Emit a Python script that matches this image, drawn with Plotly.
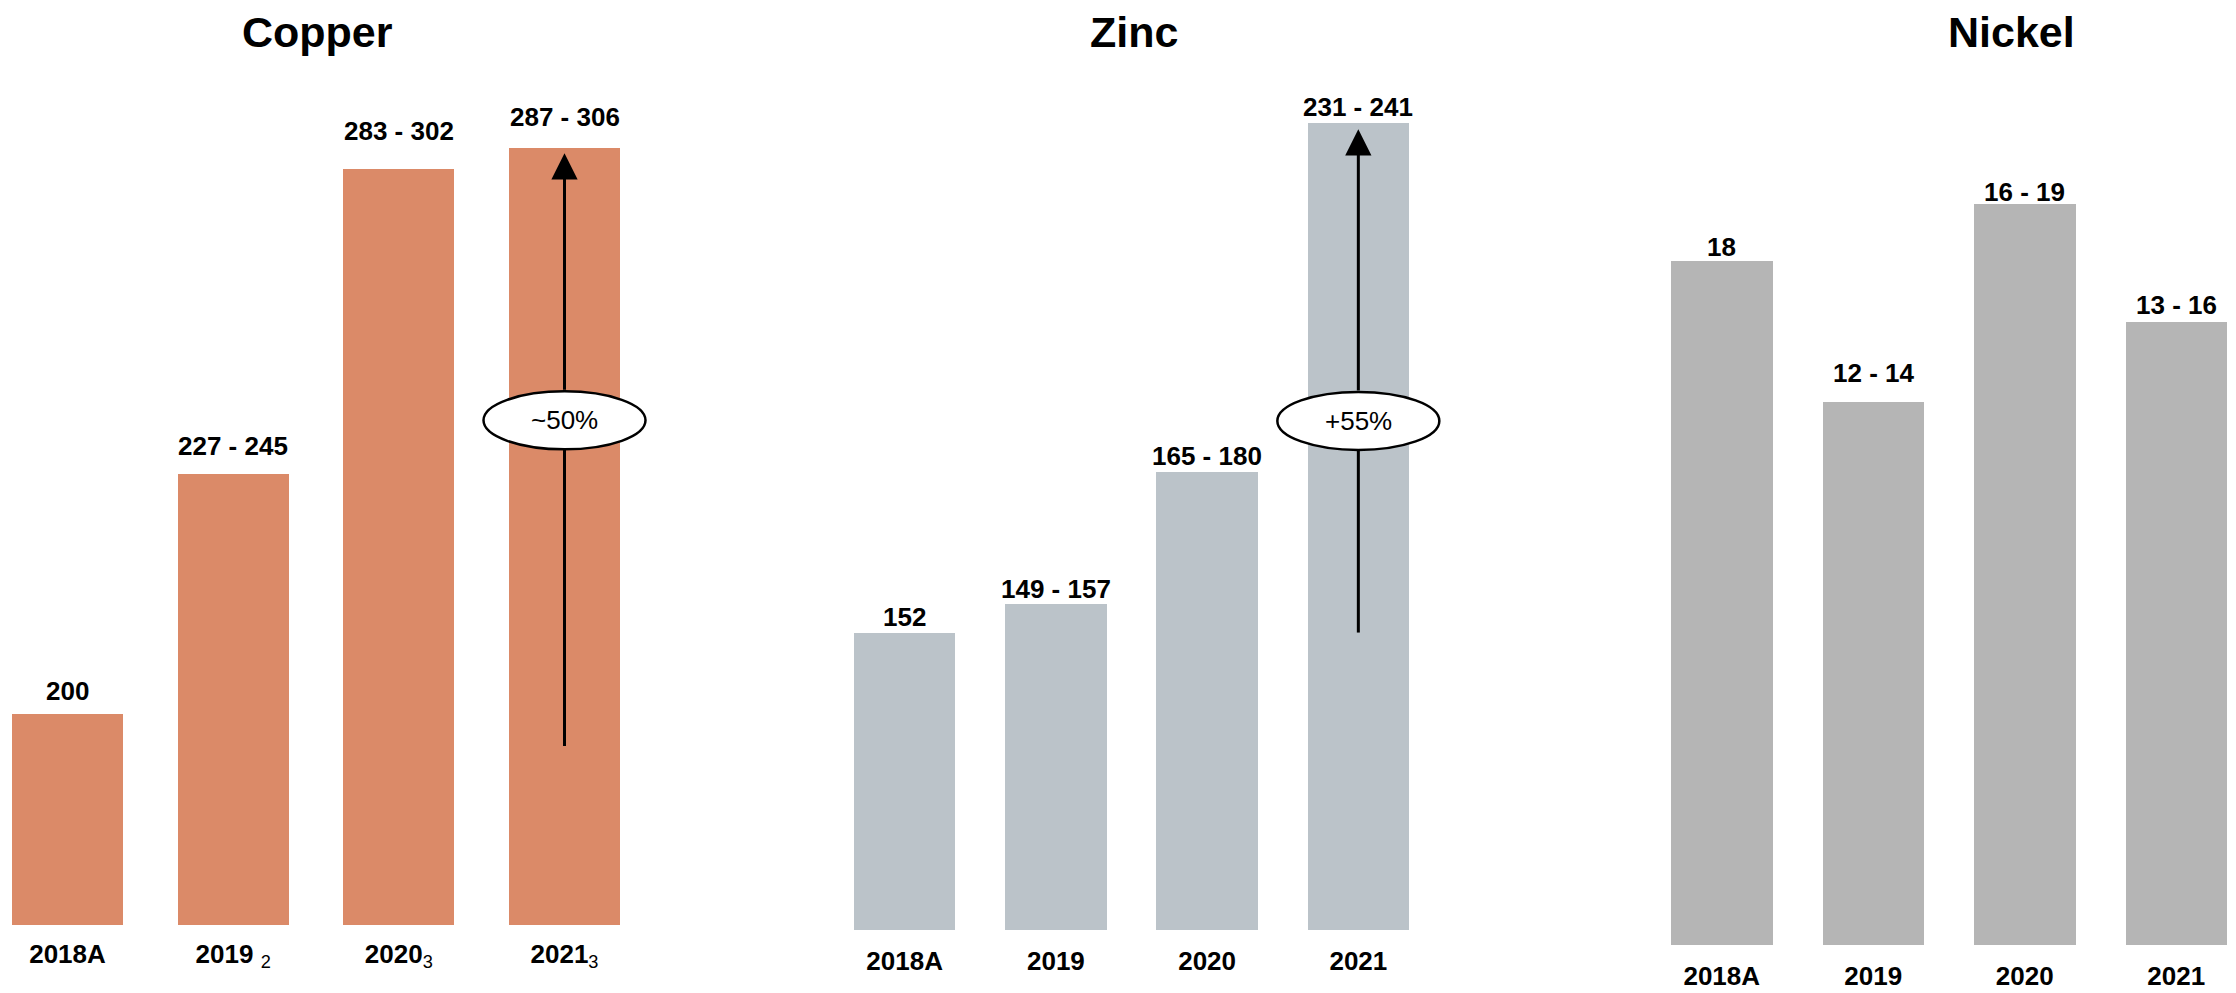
import plotly.graph_objects as go

# ---------------- data ----------------
years = ["2018A", "2019", "2020", "2021"]
copper_notes = ["", "2", "3", "3"]

copper_values = [200, 245, 302, 306]
copper_labels = ["200", "227 - 245", "283 - 302", "287 - 306"]

zinc_values = [152, 157, 180, 241]
zinc_labels = ["152", "149 - 157", "165 - 180", "231 - 241"]

nickel_values = [18, 14.3, 19.5, 16.4]
nickel_labels = ["18", "12 - 14", "16 - 19", "13 - 16"]

panel_titles = ["Copper", "Zinc", "Nickel"]

# growth arrows: (from, to, bubble position, text)
copper_growth = (194, 305, 255, "~50%")
zinc_growth = (152, 240, 189, "+55%")

# ---------------- style ----------------
PAGE_OFF = 8                      # default page margin of the html body
W, H = 2236 - PAGE_OFF, 993 - PAGE_OFF
FONT = "Liberation Sans, Arial, Helvetica, sans-serif"
colors = ["#DB8A68", "#BBC3C9", "#B5B5B5"]
label_shift = [[23, 28, 38, 31], [16, 15, 16, 16], [14, 29, 12, 17]]
# bar span (left edge of first bar, right edge of last bar) and extra room right
xdom_px = [(12, 620, 90), (854, 1409, 60), (1671, 2227, 0)]
base_px = [925, 930, 945]
top_px = 100
px_per_unit_y = [5.34, 5.72, 38.0]
y_start = [160.5, 100, 0]
title_pos_px = [(317, 32), (1134, 32), (2011, 32)]
tick_standoff = [11, 13, 13]

values_all = [copper_values, zinc_values, nickel_values]
labels_all = [copper_labels, zinc_labels, nickel_labels]


def px_x(p):
    return (p - PAGE_OFF) / W


def px_y(p):
    return (H - (p - PAGE_OFF)) / H


fig = go.Figure()
xpos = list(range(len(years)))
BW = 0.67

for i in range(3):
    sfx = "" if i == 0 else str(i + 1)
    fig.add_trace(go.Bar(
        x=xpos, y=values_all[i], width=BW,
        marker=dict(color=colors[i], line=dict(width=0)),
        xaxis="x" + sfx, yaxis="y" + sfx, showlegend=False,
        hoverinfo="skip",
    ))
    if i == 0:
        ticktext = [f"<b>{y}</b>" + (f"<sub>{n}</sub>" if n else "")
                    for y, n in zip(years, copper_notes)]
        ticktext[1] = f"<b>{years[1]}</b> <sub>{copper_notes[1]}</sub>"
    else:
        ticktext = [f"<b>{y}</b>" for y in years]
    x0, x1, extra = xdom_px[i]
    ppu = (x1 - x0) / (len(years) - 1 + BW)
    fig.layout["xaxis" + sfx] = dict(
        domain=[px_x(x0), px_x(x1 + extra)],
        range=[-BW / 2, len(years) - 1 + BW / 2 + extra / ppu],
        tickvals=xpos, ticktext=ticktext, ticks="",
        ticklabelstandoff=tick_standoff[i],
        tickfont=dict(family=FONT, size=26, color="black"),
        showgrid=False, zeroline=False, showline=False,
        anchor="y" + sfx, fixedrange=True,
    )
    fig.layout["yaxis" + sfx] = dict(
        domain=[px_y(base_px[i]), px_y(top_px)],
        range=[y_start[i], y_start[i] + (base_px[i] - top_px) / px_per_unit_y[i]],
        visible=False, showgrid=False, zeroline=False,
        anchor="x" + sfx, fixedrange=True,
    )
    # value labels
    for j, (v, t) in enumerate(zip(values_all[i], labels_all[i])):
        fig.add_annotation(
            x=j, y=v, xref="x" + sfx, yref="y" + sfx, text=t,
            showarrow=False, yanchor="middle", yshift=label_shift[i][j],
            font=dict(family=FONT, size=26, color="black", weight="bold"),
        )
    # panel title
    tx, ty = title_pos_px[i]
    fig.add_annotation(
        x=px_x(tx), y=px_y(ty), xref="paper", yref="paper",
        text=panel_titles[i], showarrow=False, xanchor="center", yanchor="middle",
        font=dict(family=FONT, size=43, color="black", weight="bold"),
    )

# growth arrows with bubble
for i, g in [(0, copper_growth), (1, zinc_growth)]:
    sfx = "" if i == 0 else str(i + 1)
    y_from, y_to, y_mid, txt = g
    xa, ya = "x" + sfx, "y" + sfx
    # lower segment of the arrow shaft
    fig.add_shape(type="line", xref=xa, yref=ya, x0=3, x1=3, y0=y_from, y1=y_mid,
                  line=dict(color="black", width=3), layer="above")
    # bubble
    fig.add_shape(type="circle", xref=xa, yref=ya,
                  xsizemode="pixel", ysizemode="pixel",
                  xanchor=3, yanchor=y_mid, x0=-81, x1=81, y0=-29, y1=29,
                  fillcolor="white", line=dict(color="black", width=2.5),
                  layer="above")
    # upper segment with arrowhead
    fig.add_annotation(
        x=3, y=y_to, ax=3, ay=y_mid, xref=xa, yref=ya, axref=xa, ayref=ya,
        text="", showarrow=True, arrowhead=2, arrowsize=1.75, arrowwidth=3,
        arrowcolor="black", startstandoff=29,
    )
    fig.add_annotation(
        x=3, y=y_mid, xref=xa, yref=ya, text=txt, showarrow=False,
        font=dict(family=FONT, size=26, color="black"),
    )

fig.update_layout(
    width=W, height=H, margin=dict(l=0, r=0, t=0, b=0),
    paper_bgcolor="white", plot_bgcolor="white",
    bargap=0, showlegend=False,
)

fig.write_html("out.html")
